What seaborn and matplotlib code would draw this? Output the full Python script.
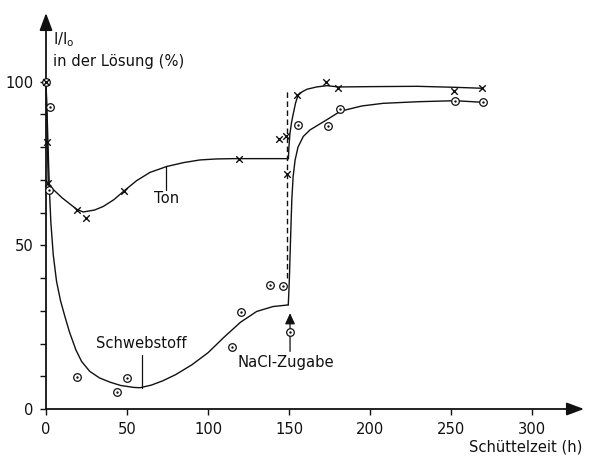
import matplotlib
matplotlib.use("Agg")
import matplotlib.pyplot as plt
import seaborn as sns
import pandas as pd

# ---------------- data ----------------
# measured points, Ton (x markers)
ton_t = [0, 0.8, 1.4, 19, 24.5, 48, 119, 144, 148, 149, 155, 173, 180.5, 252, 269]
ton_v = [100, 81.6, 69.2, 60.9, 58.5, 66.7, 76.5, 82.5, 83.3, 71.8, 96, 99.9, 98, 97.1, 98]

# measured points, Schwebstoff (dotted circles)
sw_t = [0, 2.3, 2, 19.3, 43.6, 49.8, 114.7, 120.4, 138.5, 146, 150.8,
        155.4, 173.9, 181.7, 252.5, 269.8]
sw_v = [100, 92.3, 67, 9.7, 5.1, 9.4, 18.9, 29.6, 38, 37.7, 23.6,
        86.9, 86.6, 91.6, 94, 93.7]

# hand-drawn curves
ton_c1_t = [0, 0.5, 1.0, 1.4, 10, 19, 23, 30, 35.4, 42, 48.3, 56, 64.2, 74.5,
            85, 95, 105, 115.6, 130, 149.6]
ton_c1_v = [100, 90, 78, 68.5, 64.5, 61, 60.2, 60.8, 61.9, 64, 66.7, 69.8, 72.3,
            74.1, 75.3, 76.1, 76.4, 76.5, 76.5, 76.5]
ton_c2_t = [149.6, 149.9, 150.5, 151.5, 152.5, 154, 155.5, 158, 161, 167, 173.3,
            180.5, 200, 229, 252, 269.3]
ton_c2_v = [76.5, 80, 84, 87.5, 90, 93.5, 95.8, 96.9, 97.7, 98.4, 98.8,
            98.4, 98.5, 98.6, 98.3, 98]

sw_c1_t = [0, 0.8, 1.6, 2.2, 3, 4.5, 6.5, 9, 11.7, 14.5, 18.5, 22, 27, 33, 39.5,
           46, 54, 58, 65, 72, 80, 90, 100, 110, 120, 130, 140, 149.5]
sw_c1_v = [100, 88, 75, 66, 57, 47, 39, 33, 28.2, 23.5, 18, 14.5, 11.5, 9.5, 8.2,
           7.2, 6.6, 6.5, 7.3, 8.6, 10.5, 13.5, 17.2, 22, 26.5, 29.8, 31.3, 31.8]
sw_c2_t = [149.5, 149.8, 150.2, 150.8, 151.3, 151.7, 152.5, 153.7, 155.5, 158.8,
           163, 167, 174, 181.7, 195, 208, 230, 252.5, 270]
sw_c2_v = [31.8, 35, 40, 50, 58, 64, 71, 76, 80, 83.3,
           85.3, 86.5, 88.6, 91, 92.6, 93.4, 93.9, 94.2, 93.7]

y_ticks = [0, 10, 20, 30, 40, 50, 60, 70, 80, 90, 100]
y_labels = ["0", "", "", "", "", "50", "", "", "", "", "100"]
x_ticks = [0, 50, 100, 150, 200, 250, 300]
x_labels = ["0", "50", "100", "150", "200", "250", "300"]

# ---------------- style ----------------
sns.set_theme(style="white")
plt.rcParams["font.family"] = ["DejaVu Sans"]
plt.rcParams["font.size"] = 10

fig = plt.figure(figsize=(5.91, 4.57), dpi=100)
ax = fig.add_axes([46 / 591, 48 / 457, 538 / 591, 396 / 457])
ax.set_xlim(0, 332)
ax.set_ylim(0, 121)

ink = "#111111"
fs = 10.6

def curve(t, v, **kw):
    df = pd.DataFrame({"t": t, "v": v})
    sns.lineplot(data=df, x="t", y="v", sort=False, estimator=None, ax=ax,
                 color=ink, linewidth=1.0, clip_on=False, **kw)

curve(ton_c1_t, ton_c1_v)
curve(ton_c2_t, ton_c2_v)
curve(sw_c1_t, sw_c1_v)
curve(sw_c2_t, sw_c2_v)

# dashed vertical at NaCl addition
curve([149, 149], [40, 97.5], linestyle=(0, (4, 2.5)))

ton_df = pd.DataFrame({"t": ton_t, "v": ton_v})
sw_df = pd.DataFrame({"t": sw_t, "v": sw_v})
sns.scatterplot(data=sw_df, x="t", y="v", ax=ax, marker="o", s=30,
                facecolor="white", edgecolor=ink, linewidth=0.9, clip_on=False, zorder=4)
sns.scatterplot(data=sw_df, x="t", y="v", ax=ax, marker="o", s=3,
                color=ink, linewidth=0, clip_on=False, zorder=5)
sns.scatterplot(data=ton_df, x="t", y="v", ax=ax, marker="x", s=22,
                color=ink, linewidth=1.0, clip_on=False, zorder=6)

# axes with arrows
for s in ax.spines.values():
    s.set_visible(False)
arrow_style = "-|>,head_length=0.75,head_width=0.28"
ax.annotate("", xy=(1, 0), xytext=(0, 0), xycoords="axes fraction",
            arrowprops=dict(arrowstyle=arrow_style, color=ink, lw=1.3,
                            mutation_scale=14, shrinkA=0, shrinkB=0))
ax.annotate("", xy=(0, 1), xytext=(0, 0), xycoords="axes fraction",
            arrowprops=dict(arrowstyle=arrow_style, color=ink, lw=1.3,
                            mutation_scale=14, shrinkA=0, shrinkB=0))

ax.set_xticks(x_ticks)
ax.set_xticklabels(x_labels)
ax.set_yticks(y_ticks)
ax.set_yticklabels(y_labels)
ax.tick_params(axis="both", direction="out", length=4, width=1.0, color=ink,
               labelcolor=ink, labelsize=fs, pad=5, bottom=True, left=True)
ax.set_xlabel("")
ax.set_ylabel("")

# axis titles
ax.text(4.3, 112.8, r"I/I$_\mathregular{o}$", ha="left", va="center",
        fontsize=fs, color=ink)
ax.text(4.3, 106.2, "in der Lösung (%)", ha="left", va="center",
        fontsize=fs, color=ink)
fig.text(582 / 591, 1 - 446.7 / 457, "Schüttelzeit (h)", ha="right",
         va="center", fontsize=fs, color=ink)

# labels with leader lines
ax.text(74.5, 64.4, "Ton", ha="center", va="center", fontsize=fs, color=ink)
ax.plot([74.2, 74.2], [67.0, 74.1], color=ink, lw=0.9)
ax.text(59, 20.1, "Schwebstoff", ha="center", va="center", fontsize=fs, color=ink)
ax.plot([59, 59], [16.5, 6.5], color=ink, lw=0.9)
ax.text(148, 14.2, "NaCl-Zugabe", ha="center", va="center", fontsize=fs, color=ink)
ax.annotate("", xy=(150.6, 29.3), xytext=(150.6, 17.6), xycoords="data",
            arrowprops=dict(arrowstyle="-|>,head_length=0.55,head_width=0.25",
                            color=ink, lw=0.9, mutation_scale=12,
                            shrinkA=0, shrinkB=0))

fig.savefig("out.png", dpi=100)
